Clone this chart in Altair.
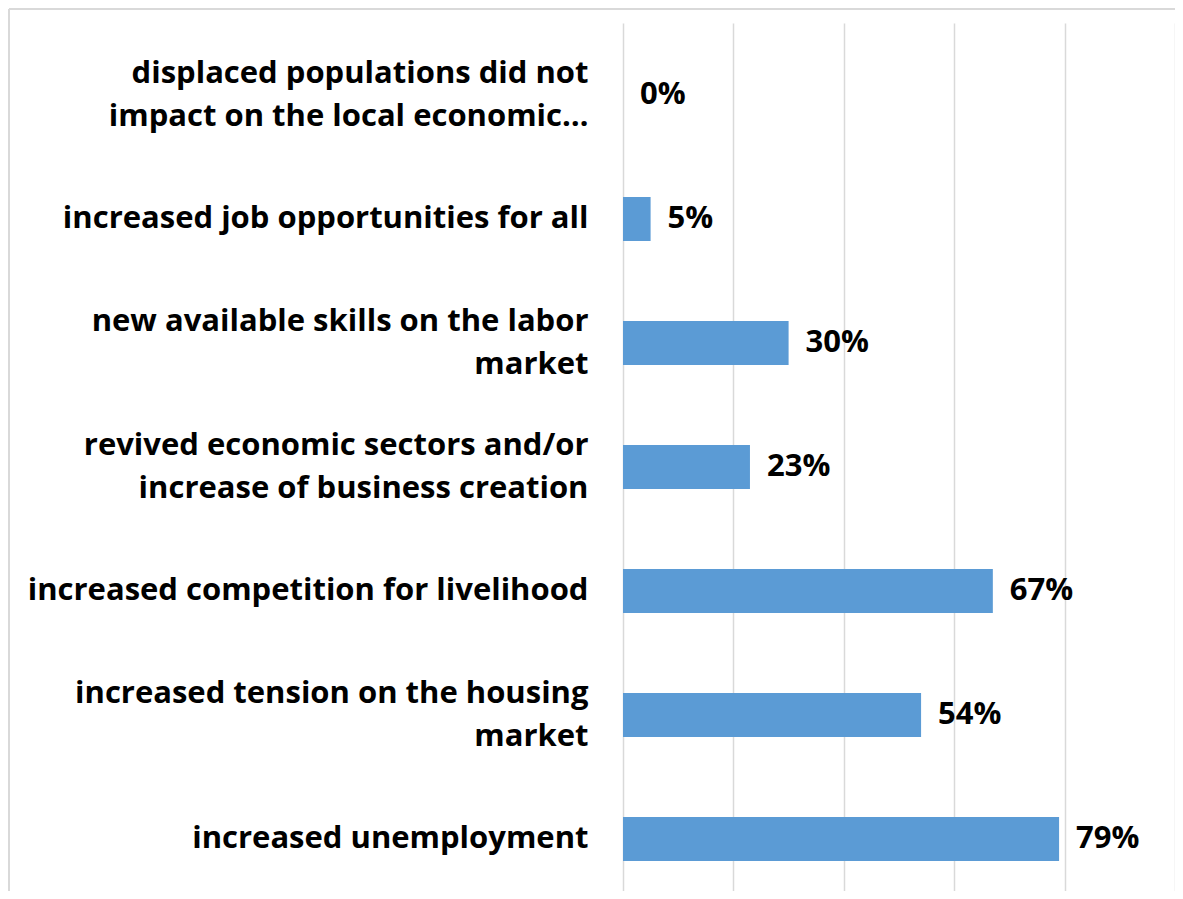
import altair as alt
import pandas as pd

categories = [
    "displaced populations did not|impact on the local economic…",
    "increased job opportunities for all",
    "new available skills on the labor|market",
    "revived economic sectors and/or|increase of business creation",
    "increased competition for livelihood",
    "increased tension on the housing|market",
    "increased unemployment",
]
values = [0, 5, 30, 23, 67, 54, 79]
value_labels = ["0%", "5%", "30%", "23%", "67%", "54%", "79%"]

df = pd.DataFrame({"cat": categories, "val": values, "lab": value_labels})

FONT = "Open Sans"
FS = 31

y_enc = alt.Y(
    "cat:N",
    sort=categories,
    scale=alt.Scale(paddingInner=0.645, paddingOuter=0.3225, range=[0, 868]),
    axis=alt.Axis(
        title=None,
        labelExpr="split(datum.label, '|')",
        labelFont=FONT,
        labelFontSize=FS,
        labelFontWeight="bold",
        labelColor="#000000",
        labelPadding=35,
        labelLineHeight=43,
        labelLimit=700,
        labelOffset={"condition": {"test": "indexof(datum.value, '|') >= 0", "value": -21.5}, "value": 0},
        ticks=False,
        domain=False,
        grid=False,
    ),
)

x_enc = alt.X(
    "val:Q",
    scale=alt.Scale(domain=[0, 100]),
    axis=alt.Axis(
        title=None,
        labels=False,
        ticks=False,
        domain=False,
        grid=True,
        gridColor="#d9d9d9",
        gridWidth=1.5,
        values=[0, 20, 40, 60, 80, 100],
    ),
)

bars = alt.Chart(df).mark_bar(color="#5b9bd5").encode(y=y_enc, x=x_enc)

texts = alt.Chart(df).mark_text(
    align="left",
    baseline="middle",
    dx=17,
    font=FONT,
    fontSize=FS,
    fontWeight="bold",
    color="#000000",
).encode(y=alt.Y("cat:N", sort=categories), x="val:Q", text="lab:N")

frame = alt.Chart(df).mark_rule(color="#d9d9d9", strokeWidth=2).encode(
    x=alt.value(-614), x2=alt.value(560), y=alt.value(-24)
)
frame_left = alt.Chart(df).mark_rule(color="#d9d9d9", strokeWidth=2).encode(
    x=alt.value(-614), y=alt.value(-24), y2=alt.value(880)
)

chart = (
    alt.layer(bars, texts, frame, frame_left)
    .properties(
        width=552,
        height=858,
        background="white",
        autosize=alt.AutoSizeParams(type="none"),
        padding={"left": 615, "top": 25, "right": 0, "bottom": 0},
    )
    .configure_view(strokeWidth=0, clip=False)
    .configure_axis(domain=False)
)

chart.save("out.html", embed_options={"renderer": "svg", "actions": False})
